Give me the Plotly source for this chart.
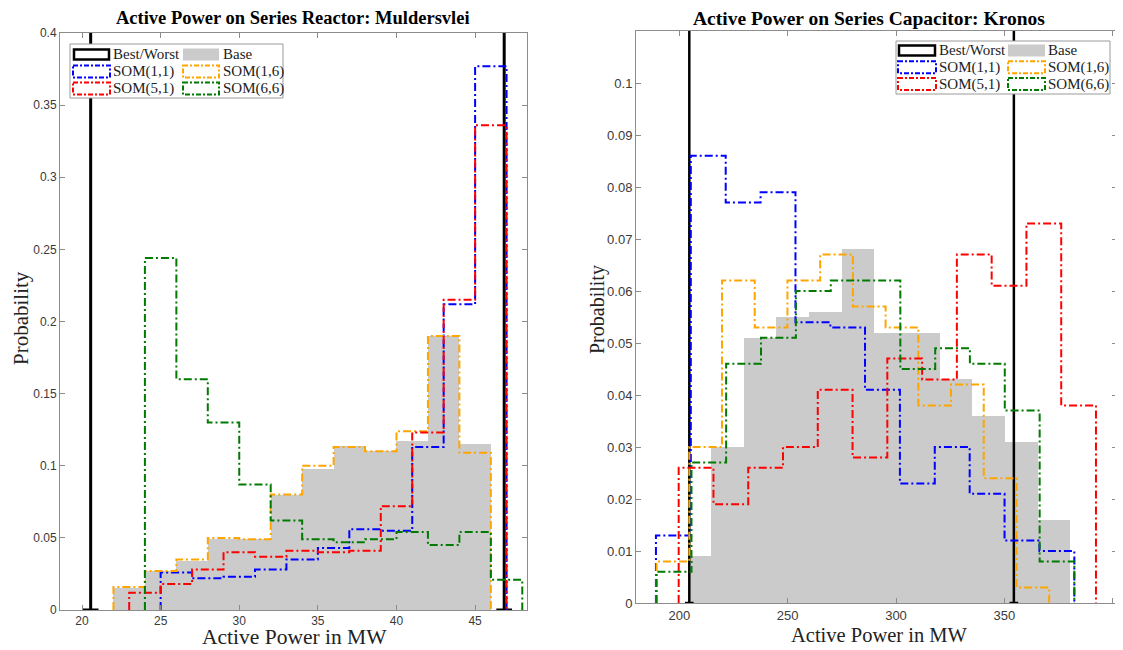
import plotly.graph_objects as go

# page body has an 8px margin, so the figure is drawn 8px in from the window's corner
OFF = 8
W, H = 1123 - OFF, 650 - OFF

# ---------------- Left panel data: Series Reactor Muldersvlei ----------------
left_base_edges = [22, 24, 26, 28, 30, 32, 34, 36, 38, 40, 42, 44, 46]
left_base = [0.015, 0.027, 0.034, 0.049, 0.049, 0.080, 0.098, 0.114, 0.110, 0.117, 0.190, 0.115]
left_som11_edges = [25, 27, 29, 31, 33, 35, 37, 39, 41, 43, 45, 47]
left_som11 = [0.026, 0.022, 0.023, 0.028, 0.035, 0.043, 0.056, 0.055, 0.113, 0.212, 0.377]
left_som16_edges = [22, 24, 26, 28, 30, 32, 34, 36, 38, 40, 42, 44, 46]
left_som16 = [0.016, 0.027, 0.035, 0.050, 0.049, 0.080, 0.100, 0.113, 0.110, 0.124, 0.190, 0.109]
left_som51_edges = [23, 25, 27, 29, 31, 33, 35, 37, 39, 41, 43, 45, 47]
left_som51 = [0.012, 0.018, 0.028, 0.040, 0.037, 0.041, 0.040, 0.041, 0.072, 0.123, 0.215, 0.336]
left_som66_edges = [24, 26, 28, 30, 32, 34, 36, 38, 40, 42, 44, 46, 48]
left_som66 = [0.244, 0.160, 0.130, 0.087, 0.062, 0.049, 0.047, 0.049, 0.054, 0.045, 0.054, 0.021]
left_best_worst = [20.55, 46.85]
left_xticks = [20, 25, 30, 35, 40, 45]
left_yticks = [0, 0.05, 0.1, 0.15, 0.2, 0.25, 0.3, 0.35, 0.4]
left_ytick_text = ["0", "0.05", "0.1", "0.15", "0.2", "0.25", "0.3", "0.35", "0.4"]

# ---------------- Right panel data: Series Capacitor Kronos ----------------
right_base_edges = [205.0, 214.6, 229.7, 244.8, 259.9, 275.0, 290.0, 305.1, 320.2, 335.2, 350.3, 365.4, 380.4]
right_base = [0.009, 0.030, 0.051, 0.055, 0.056, 0.068, 0.052, 0.052, 0.043, 0.036, 0.031, 0.016]
right_som11_edges = [189.2, 205.3, 221.4, 237.5, 253.6, 269.7, 285.7, 301.8, 317.9, 334.0, 350.1, 366.2, 382.3]
right_som11 = [0.013, 0.086, 0.077, 0.079, 0.054, 0.053, 0.041, 0.023, 0.030, 0.021, 0.012, 0.010]
right_som16_edges = [189.5, 204.6, 219.7, 234.8, 249.9, 265.0, 280.1, 295.2, 310.3, 325.4, 340.5, 355.6, 370.7]
right_som16 = [0.008, 0.030, 0.062, 0.053, 0.062, 0.067, 0.057, 0.053, 0.038, 0.042, 0.024, 0.003]
right_som51_edges = [199.7, 215.75, 231.8, 247.85, 263.9, 279.95, 296.0, 312.05, 328.1, 344.15, 360.2, 376.25, 392.3]
right_som51 = [0.026, 0.019, 0.026, 0.030, 0.041, 0.028, 0.047, 0.043, 0.067, 0.061, 0.073, 0.038]
right_som66_edges = [189.5, 205.6, 221.6, 237.7, 253.8, 269.9, 285.9, 302.0, 318.1, 334.1, 350.2, 366.3, 382.3]
right_som66 = [0.006, 0.027, 0.046, 0.051, 0.060, 0.062, 0.062, 0.045, 0.049, 0.046, 0.037, 0.008]
right_best_worst = [204.6, 354.4]
right_xticks = [200, 250, 300, 350, 400]
right_yticks = [0, 0.01, 0.02, 0.03, 0.04, 0.05, 0.06, 0.07, 0.08, 0.09, 0.1]
right_ytick_text = ["0", "0.01", "0.02", "0.03", "0.04", "0.05", "0.06", "0.07", "0.08", "0.09", "0.1"]

labels = ["Best/Worst", "Base", "SOM(1,1)", "SOM(1,6)", "SOM(5,1)", "SOM(6,6)"]
colors = {"SOM(1,1)": "#0000FF", "SOM(1,6)": "#FFA500", "SOM(5,1)": "#FF0000", "SOM(6,6)": "#007A00"}
BASE_COLOR = "#CBCBCB"
DASH = "8px,3px,2px,3px"

fig = go.Figure()


def stairs(edges, vals):
    xs = [edges[0]] + list(edges)
    ys = [0] + list(vals) + [0]
    return xs, ys


def add_panel(xa, ya, base_edges, base, series, best_worst, bw_width, ymax, bw_half):
    centers = [(base_edges[i] + base_edges[i + 1]) / 2 for i in range(len(base))]
    widths = [base_edges[i + 1] - base_edges[i] for i in range(len(base))]
    fig.add_trace(go.Bar(x=centers, y=base, width=widths, marker=dict(color=BASE_COLOR, line=dict(width=0)),
                         xaxis=xa, yaxis=ya, showlegend=False, hoverinfo="skip"))
    for xv in best_worst:
        xs = [xv - bw_half, xv + bw_half, None, xv, xv]
        ys = [0, 0, None, 0, ymax * 1.2]
        fig.add_trace(go.Scatter(x=xs, y=ys, mode="lines", line=dict(color="black", width=bw_width),
                                 xaxis=xa, yaxis=ya, showlegend=False, hoverinfo="skip"))
    for name, (edges, vals) in series.items():
        xs, ys = stairs(edges, vals)
        fig.add_trace(go.Scatter(x=xs, y=ys, mode="lines", line=dict(color=colors[name], width=2, dash=DASH, shape="hv"),
                                 xaxis=xa, yaxis=ya, showlegend=False, hoverinfo="skip"))


add_panel("x", "y", left_base_edges, left_base,
          {"SOM(1,1)": (left_som11_edges, left_som11), "SOM(1,6)": (left_som16_edges, left_som16),
           "SOM(5,1)": (left_som51_edges, left_som51), "SOM(6,6)": (left_som66_edges, left_som66)},
          left_best_worst, 3, 0.4, 0.5)
add_panel("x2", "y2", right_base_edges, right_base,
          {"SOM(1,1)": (right_som11_edges, right_som11), "SOM(1,6)": (right_som16_edges, right_som16),
           "SOM(5,1)": (right_som51_edges, right_som51), "SOM(6,6)": (right_som66_edges, right_som66)},
          right_best_worst, 2.5, 0.11, 2.0)


def px(x):
    return (x - OFF) / W


def py(y):
    return 1 - (y - OFF) / H


AX_COLOR = "#8C8C8C"
common = dict(showgrid=False, zeroline=False, showline=True, linecolor=AX_COLOR, linewidth=1, automargin=False,
              ticks="inside", ticklen=5, tickcolor=AX_COLOR, mirror="ticks")
LEFT_TICK_FONT = dict(family="Liberation Sans, Arial", size=12, color="#3a3a3a")
RIGHT_TICK_FONT = dict(family="Liberation Sans, Arial", size=13, color="#3a3a3a")

fig.update_layout(
    width=W, height=H, margin=dict(l=0, r=0, t=0, b=0, autoexpand=False),
    paper_bgcolor="white", plot_bgcolor="white", bargap=0, barmode="overlay",
    xaxis=dict(domain=[px(60), px(527)], range=[18.6, 48.3], tickvals=left_xticks, anchor="y",
               tickfont=LEFT_TICK_FONT, **common),
    yaxis=dict(domain=[py(610), py(33)], range=[0, 0.4], tickvals=left_yticks, ticktext=left_ytick_text,
               anchor="x", tickfont=LEFT_TICK_FONT, **common),
    xaxis2=dict(domain=[px(636), px(1117)], range=[180, 402], tickvals=right_xticks, anchor="y2",
                tickfont=RIGHT_TICK_FONT, **common),
    yaxis2=dict(domain=[py(603), py(31)], range=[0, 0.11], tickvals=right_yticks, ticktext=right_ytick_text,
                anchor="x2", tickfont=RIGHT_TICK_FONT, **common),
)

SERIF = "Liberation Serif, Times New Roman, serif"
ann = []
shapes = []
ann.append(dict(text="<b>Active Power on Series Reactor: Muldersvlei</b>", x=px(293), y=py(18), xref="paper", yref="paper",
                showarrow=False, font=dict(family=SERIF, size=18.5, color="black"), xanchor="center", yanchor="middle"))
ann.append(dict(text="<b>Active Power on Series Capacitor: Kronos</b>", x=px(869), y=py(18), xref="paper", yref="paper",
                showarrow=False, font=dict(family=SERIF, size=19.5, color="black"), xanchor="center", yanchor="middle"))
ann.append(dict(text="Active Power in MW", x=px(294), y=py(637), xref="paper", yref="paper", showarrow=False,
                font=dict(family=SERIF, size=21.5, color="#222222"), xanchor="center", yanchor="middle"))
ann.append(dict(text="Active Power in MW", x=px(879), y=py(635), xref="paper", yref="paper", showarrow=False,
                font=dict(family=SERIF, size=20.5, color="#222222"), xanchor="center", yanchor="middle"))
ann.append(dict(text="Probability", x=px(21), y=py(318), xref="paper", yref="paper", showarrow=False, textangle=-90,
                font=dict(family=SERIF, size=21, color="#222222"), xanchor="center", yanchor="middle"))
ann.append(dict(text="Probability", x=px(598), y=py(310), xref="paper", yref="paper", showarrow=False, textangle=-90,
                font=dict(family=SERIF, size=20, color="#222222"), xanchor="center", yanchor="middle"))


def legend_box(x0, y0, x1, y1, col1_icon, col1_text, col2_icon, col2_text, rows, icon_h):
    shapes.append(dict(type="rect", xref="paper", yref="paper", x0=px(x0), y0=py(y0), x1=px(x1), y1=py(y1),
                       line=dict(color="#9A9A9A", width=1), fillcolor="white", layer="above"))
    for i, lab in enumerate(labels):
        r = i // 2
        c = i % 2
        ic = col1_icon if c == 0 else col2_icon
        tx = col1_text if c == 0 else col2_text
        yc = rows[r]
        if lab == "Best/Worst":
            shapes.append(dict(type="rect", xref="paper", yref="paper", x0=px(ic[0] + 1), x1=px(ic[1] - 1),
                               y0=py(yc - icon_h / 2 + 1), y1=py(yc + icon_h / 2 - 1),
                               line=dict(color="black", width=2.5), fillcolor="white", layer="above"))
        elif lab == "Base":
            shapes.append(dict(type="rect", xref="paper", yref="paper", x0=px(ic[0]), x1=px(ic[1]),
                               y0=py(yc - icon_h / 2), y1=py(yc + icon_h / 2),
                               line=dict(width=0), fillcolor=BASE_COLOR, layer="above"))
        else:
            shapes.append(dict(type="rect", xref="paper", yref="paper", x0=px(ic[0]), x1=px(ic[1]),
                               y0=py(yc - icon_h / 2), y1=py(yc + icon_h / 2),
                               line=dict(color=colors[lab], width=2, dash="5px,2px,2px,2px"), fillcolor="rgba(0,0,0,0)",
                               layer="above"))
        ann.append(dict(text=lab, x=px(tx), y=py(yc), xref="paper", yref="paper", showarrow=False,
                        xanchor="left", yanchor="middle", font=dict(family=SERIF, size=15, color="#222222")))


legend_box(70, 44, 283, 98, (73, 110), 111, (183, 219), 221, [54.5, 71.5, 88.5], 12)
legend_box(896, 41, 1110, 94, (898, 936), 937, (1008, 1045), 1046, [50.5, 67.3, 84], 12)

fig.update_layout(annotations=ann, shapes=shapes)
fig.write_html("out.html")
